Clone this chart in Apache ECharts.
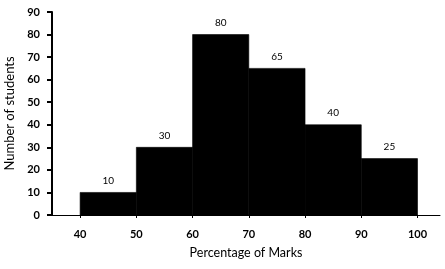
<!DOCTYPE html>
<html>
<head>
<meta charset="utf-8">
<script src="https://cdn.jsdelivr.net/npm/echarts@6/dist/echarts.min.js"></script>
<style>html,body{margin:0;padding:0;background:#fff}#c{width:445px;height:269px}</style>
</head>
<body>
<div id="c"></div>
<script>
var binStarts = [40, 50, 60, 70, 80, 90];
var binEnds = [50, 60, 70, 80, 90, 100];
var counts = [10, 30, 80, 65, 40, 25];
var xTicks = [40, 50, 60, 70, 80, 90, 100];

var chart = echarts.init(document.getElementById('c'), null, {renderer: 'canvas'});
var font = 'Lato, "Open Sans", sans-serif';
var data = binStarts.map(function (s, i) { return [s, binEnds[i], counts[i]]; });

chart.setOption({
  animation: false,
  grid: {left: 52, right: 5, top: 12, bottom: 54, containLabel: false, outerBoundsMode: 'none'},
  xAxis: {
    type: 'value', min: 35, max: 104,
    name: 'Percentage of Marks', nameLocation: 'middle', nameGap: 31,
    nameTextStyle: {color: '#000', fontSize: 12.5, fontFamily: font},
    splitLine: {show: false},
    axisLine: {show: true, onZero: false, lineStyle: {color: '#000', width: 1}},
    axisTick: {show: true, length: 3, lineStyle: {color: '#000'}, customValues: xTicks},
    axisLabel: {color: '#000', fontSize: 11, fontFamily: font, fontWeight: 'bold', margin: 14, customValues: xTicks}
  },
  yAxis: {
    type: 'value', min: 0, max: 90, interval: 10,
    name: 'Number of students', nameLocation: 'middle', nameGap: 36, nameRotate: 90,
    nameTextStyle: {color: '#000', fontSize: 13, fontFamily: font},
    splitLine: {show: false},
    axisLine: {show: true, lineStyle: {color: '#000', width: 2}},
    axisTick: {show: true, length: 5, lineStyle: {color: '#000', width: 2}},
    axisLabel: {color: '#000', fontSize: 11, fontFamily: font, fontWeight: 'bold', margin: 12}
  },
  series: [{
    type: 'custom',
    data: data,
    encode: {x: [0, 1], y: 2},
    renderItem: function (params, api) {
      var p0 = api.coord([api.value(0), api.value(2)]);
      var p1 = api.coord([api.value(1), 0]);
      return {
        type: 'group',
        children: [{
          type: 'rect',
          shape: {x: p0[0], y: p0[1], width: p1[0] - p0[0], height: p1[1] - p0[1]},
          style: {fill: '#000', stroke: '#000', lineWidth: 0.6}
        }, {
          type: 'text',
          style: {
            text: String(api.value(2)),
            x: (p0[0] + p1[0]) / 2, y: p0[1] - 12,
            textAlign: 'center', textVerticalAlign: 'middle',
            fill: '#000', font: '10px ' + font
          }
        }]
      };
    }
  }]
});
</script>
</body>
</html>
